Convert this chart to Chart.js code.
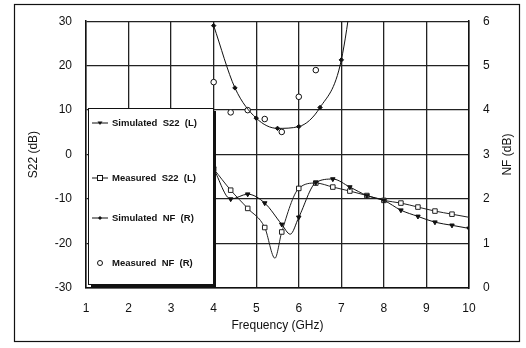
<!DOCTYPE html>
<html>
<head>
<meta charset="utf-8">
<script src="https://cdn.jsdelivr.net/npm/chart.js@4/dist/chart.umd.min.js"></script>
<style>
  html, body { margin: 0; padding: 0; background: #fff; }
  #wrap { width: 526px; height: 348px; position: relative; }
</style>
</head>
<body>
<div id="wrap"><canvas id="chart" width="526" height="348"></canvas></div>
<script>
// --- Data ---
const freqTicks = [1, 2, 3, 4, 5, 6, 7, 8, 9, 10];

const simS22Freq = [4.0, 4.4, 4.8, 5.2, 5.6, 5.8, 6.0, 6.4, 6.8, 7.2, 7.6, 8.0, 8.4, 8.8, 9.2, 9.6, 10.0];
const simS22 = [-3.2, -10, -8.9, -10.9, -15.7, -17.9, -14.1, -6.3, -5.5, -7.3, -9.2, -10.3, -12.5, -13.9, -15.2, -15.9, -16.6];
const simS22Marked = [1, 1, 1, 1, 1, 0, 1, 1, 1, 1, 1, 1, 1, 1, 1, 1, 1];

const measS22Freq = [4.0, 4.4, 4.8, 5.2, 5.44, 5.6, 6.0, 6.4, 6.8, 7.2, 7.6, 8.0, 8.4, 8.8, 9.2, 9.6, 10.0];
const measS22 = [-3.2, -8, -12.1, -16.4, -23.3, -17.4, -7.6, -6.4, -7.3, -8.2, -9.2, -10.3, -10.9, -11.8, -12.7, -13.4, -14.1];
const measS22Marked = [1, 1, 1, 1, 0, 1, 1, 1, 1, 1, 1, 1, 1, 1, 1, 1, 0];

const simNFFreq = [4.0, 4.5, 5.0, 5.5, 6.0, 6.5, 7.0, 7.5];
const simNF = [5.9, 4.5, 3.82, 3.59, 3.63, 4.06, 5.13, 8.5];

const measNFFreq = [4.0, 4.4, 4.8, 5.2, 5.6, 6.0, 6.4];
const measNF = [4.63, 3.95, 4.0, 3.8, 3.51, 4.3, 4.9];

const legendLabels = ['Simulated  S22  (L)', 'Measured  S22  (L)', 'Simulated  NF  (R)', 'Measured  NF  (R)'];
const rightTitle = 'NF (dB)';

const FONT = '"Liberation Sans", Arial, sans-serif';

// --- Helpers ---
function toPoints(xs, ys) {
  return xs.map((x, i) => ({ x: x, y: ys[i] }));
}

// outer frame, right axis title (reads upward) and inset legend box
const framePlugin = {
  id: 'frame',
  beforeDraw(chart) {
    const ctx = chart.ctx;
    ctx.save();
    ctx.fillStyle = '#fff';
    ctx.fillRect(0, 0, chart.width, chart.height);
    ctx.strokeStyle = '#111';
    ctx.lineWidth = 1.2;
    ctx.strokeRect(14.5, 4.5, 505, 337);
    ctx.restore();
  },
  afterDraw(chart) {
    const ctx = chart.ctx;
    const area = chart.chartArea;
    ctx.save();
    // right title
    ctx.translate(508, (area.top + area.bottom) / 2);
    ctx.rotate(-Math.PI / 2);
    ctx.font = '12px ' + FONT;
    ctx.fillStyle = '#111';
    ctx.textAlign = 'center';
    ctx.textBaseline = 'middle';
    ctx.fillText(rightTitle, 0, 0);
    ctx.restore();

    const bx = 88, by = 108, bw = 125, bh = 176;
    ctx.save();
    // shadow
    ctx.fillStyle = '#111';
    ctx.fillRect(bx + 3, by + 3, bw, bh);
    ctx.fillStyle = '#fff';
    ctx.fillRect(bx, by, bw, bh);
    ctx.strokeStyle = '#111';
    ctx.lineWidth = 1;
    ctx.strokeRect(bx + 0.5, by + 0.5, bw, bh);

    const rows = [123, 178, 218, 263];
    ctx.font = 'bold 9.5px ' + FONT;
    ctx.textBaseline = 'middle';
    ctx.fillStyle = '#111';
    rows.forEach((ry, i) => {
      if (i < 3) {
        ctx.beginPath();
        ctx.moveTo(92, ry);
        ctx.lineTo(108, ry);
        ctx.lineWidth = 1;
        ctx.stroke();
      }
      ctx.beginPath();
      if (i === 0) {
        ctx.moveTo(97.5, ry - 1.5); ctx.lineTo(102.5, ry - 1.5); ctx.lineTo(100, ry + 2);
        ctx.closePath(); ctx.fill();
      } else if (i === 1) {
        ctx.fillStyle = '#fff';
        ctx.fillRect(97.5, ry - 2.5, 5, 5);
        ctx.strokeRect(97.5, ry - 2.5, 5, 5);
        ctx.fillStyle = '#111';
      } else if (i === 2) {
        ctx.moveTo(100, ry - 2); ctx.lineTo(102, ry); ctx.lineTo(100, ry + 2); ctx.lineTo(98, ry);
        ctx.closePath(); ctx.fill();
      } else {
        ctx.arc(100, ry, 2.5, 0, Math.PI * 2);
        ctx.stroke();
      }
      ctx.fillText(legendLabels[i], 112, ry);
    });
    ctx.restore();
  }
};

new Chart(document.getElementById('chart').getContext('2d'), {
  type: 'line',
  data: {
    datasets: [
      {
        label: 'Simulated S22 (L)',
        data: toPoints(simS22Freq, simS22),
        yAxisID: 'y',
        borderColor: '#111',
        borderWidth: 1,
        backgroundColor: '#111',
        pointStyle: 'triangle',
        rotation: 180,
        pointRadius: simS22Marked.map(m => m ? 2.6 : 0),
        cubicInterpolationMode: 'monotone'
      },
      {
        label: 'Measured S22 (L)',
        data: toPoints(measS22Freq, measS22),
        yAxisID: 'y',
        borderColor: '#222',
        borderWidth: 1,
        backgroundColor: '#fff',
        pointStyle: 'rect',
        pointBorderWidth: 1,
        pointRadius: measS22Marked.map(m => m ? 3.2 : 0),
        cubicInterpolationMode: 'monotone'
      },
      {
        label: 'Simulated NF (R)',
        data: toPoints(simNFFreq, simNF),
        yAxisID: 'y1',
        borderColor: '#111',
        borderWidth: 1,
        backgroundColor: '#111',
        pointStyle: 'rectRot',
        pointRadius: 2.2,
        cubicInterpolationMode: 'monotone'
      },
      {
        label: 'Measured NF (R)',
        data: toPoints(measNFFreq, measNF),
        yAxisID: 'y1',
        showLine: false,
        borderColor: '#111',
        borderWidth: 1,
        backgroundColor: '#fff',
        pointStyle: 'circle',
        pointRadius: 2.8
      }
    ]
  },
  options: {
    responsive: false,
    animation: false,
    layout: { padding: { top: 20, left: 0, right: 0, bottom: 0 } },
    plugins: { legend: { display: false }, tooltip: { enabled: false } },
    scales: {
      x: {
        type: 'linear',
        min: 1,
        max: 10,
        afterBuildTicks: axis => { axis.ticks = freqTicks.map(v => ({ value: v })); },
        afterFit: axis => { axis.height = 60; },
        grid: { color: '#222', lineWidth: 1.3, drawTicks: false },
        border: { color: '#111', width: 1.5 },
        ticks: { color: '#111', font: { family: FONT, size: 12 }, padding: 13 },
        title: { display: true, text: 'Frequency (GHz)', color: '#111', font: { family: FONT, size: 12 }, padding: { top: 0, bottom: 15 } }
      },
      y: {
        position: 'left',
        min: -30,
        max: 30,
        ticks: { stepSize: 10, color: '#111', font: { family: FONT, size: 12 }, padding: 14 },
        afterFit: axis => { axis.width = 86; },
        grid: { color: '#222', lineWidth: 1.3, drawTicks: false },
        border: { color: '#111', width: 1.5 },
        title: { display: true, text: 'S22 (dB)', color: '#111', font: { family: FONT, size: 12 }, padding: { top: 26, bottom: 0 } }
      },
      y1: {
        position: 'right',
        min: 0,
        max: 6,
        ticks: { stepSize: 1, color: '#111', font: { family: FONT, size: 12 }, padding: 14 },
        afterFit: axis => { axis.width = 57; },
        grid: { display: false, drawTicks: false },
        border: { color: '#111', width: 1.5 },
        title: { display: false }
      }
    }
  },
  plugins: [framePlugin]
});
</script>
</body>
</html>
